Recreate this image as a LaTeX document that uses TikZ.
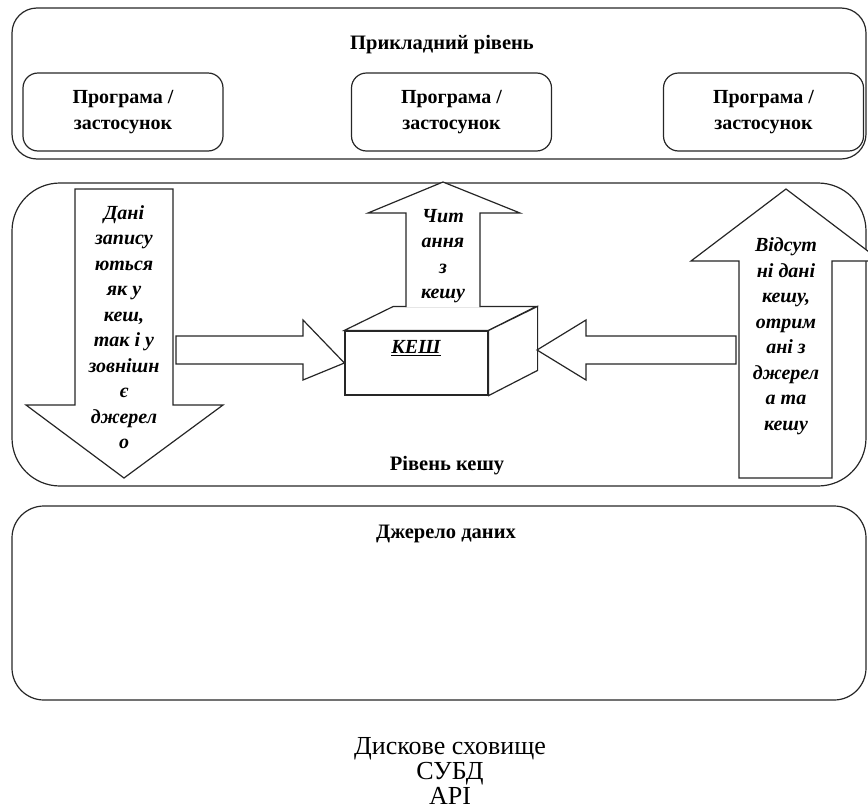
\documentclass[tikz,border=0pt]{standalone}
\usepackage{fontspec}
\setmainfont{Liberation Serif}

\begin{document}
\begin{tikzpicture}[x=1pt,y=-1pt,
  layer/.style={rectangle,draw=black!85,line width=1.2pt,minimum width=854pt},
  appbox/.style={rectangle,rounded corners=15pt,draw=black!85,line width=1.2pt,
                 minimum width=200pt,minimum height=78pt,align=center,
                 font=\fontsize{20}{26}\selectfont\bfseries},
  lbl/.style={font=\fontsize{20.5}{26}\selectfont\bfseries},
  blockarr/.style={draw=black!85,line width=1.2pt,fill=white,line join=miter},
  arrtext/.style={align=center,font=\fontsize{20}{25.5}\selectfont\bfseries\itshape}
]
\clip (0,0) rectangle (868,809);

% Application layer
\node[layer,rounded corners=25pt,minimum height=151pt] (applayer) at (439,83.5) {};
\node[lbl] (apptitle) at (442,45) {Прикладний рівень};
\node[appbox] (app1) at (123,112)   {Програма /\\застосунок};
\node[appbox] (app2) at (451.5,112) {Програма /\\застосунок};
\node[appbox] (app3) at (763.5,112) {Програма /\\застосунок};

% Cache layer
\node[layer,rounded corners=48pt,minimum height=303pt] (cachelayer) at (439,334.5) {};
\node[lbl] (cachetitle) at (447,466) {Рівень кешу};

% write-through arrow (down)
\draw[blockarr] (75,189) -- (173,189) -- (173,405) -- (223,405) -- (124,478)
  -- (26,405) -- (75,405) -- cycle;
\node[arrtext] (writetxt) at (124,327)
  {Дані\\запису\\ються\\як у\\кеш,\\так і у\\зовнішн\\є\\джерел\\о};

% cache box
\node[rectangle,draw=black!85,line width=1.2pt,fill=white,
      minimum width=143pt,minimum height=64pt] (kesh) at (416.5,363) {};
\draw[blockarr] (kesh.north west) -- ++(49,-24) -- ++(143,0) -- (kesh.north east) -- cycle;
\draw[blockarr] (kesh.north east) -- ++(49,-24) -- ++(0,64) -- (kesh.south east) -- cycle;
\node[font=\fontsize{20}{24}\selectfont\bfseries\itshape] (keshtxt) at (416,348)
  {\underline{КЕШ}};

% read arrow (up)
\draw[blockarr] (406,307) -- (406,213) -- (368,213) -- (443,182) -- (520,213)
  -- (480,213) -- (480,307);
\node[arrtext] (readtxt) at (443,256) {Чит\\ання\\з\\кешу};

% arrows into cache
\draw[blockarr] (176,336) -- (303,336) -- (303,320) -- (kesh.west) -- (303,380)
  -- (303,364) -- (176,364) -- cycle;
\draw[blockarr] (537,350) -- (586,320) -- (586,336) -- (736,336) -- (736,364)
  -- (586,364) -- (586,380) -- cycle;

% miss arrow (up)
\draw[blockarr] (739,478) -- (739,261) -- (691,261) -- (786,189) -- (881,261)
  -- (832,261) -- (832,478) -- cycle;
\node[arrtext] (misstxt) at (786,336)
  {Відсут\\ні дані\\кешу,\\отрим\\ані з\\джерел\\а та\\кешу};

% Data source layer
\node[layer,rounded corners=32pt,minimum height=194pt] (srclayer) at (439,603) {};
\node[lbl] (srctitle) at (446,534) {Джерело даних};

\node[align=center,font=\fontsize{26}{25}\selectfont] (srclist) at (450,771)
  {Дискове сховище\\СУБД\\API};

\end{tikzpicture}
\end{document}
